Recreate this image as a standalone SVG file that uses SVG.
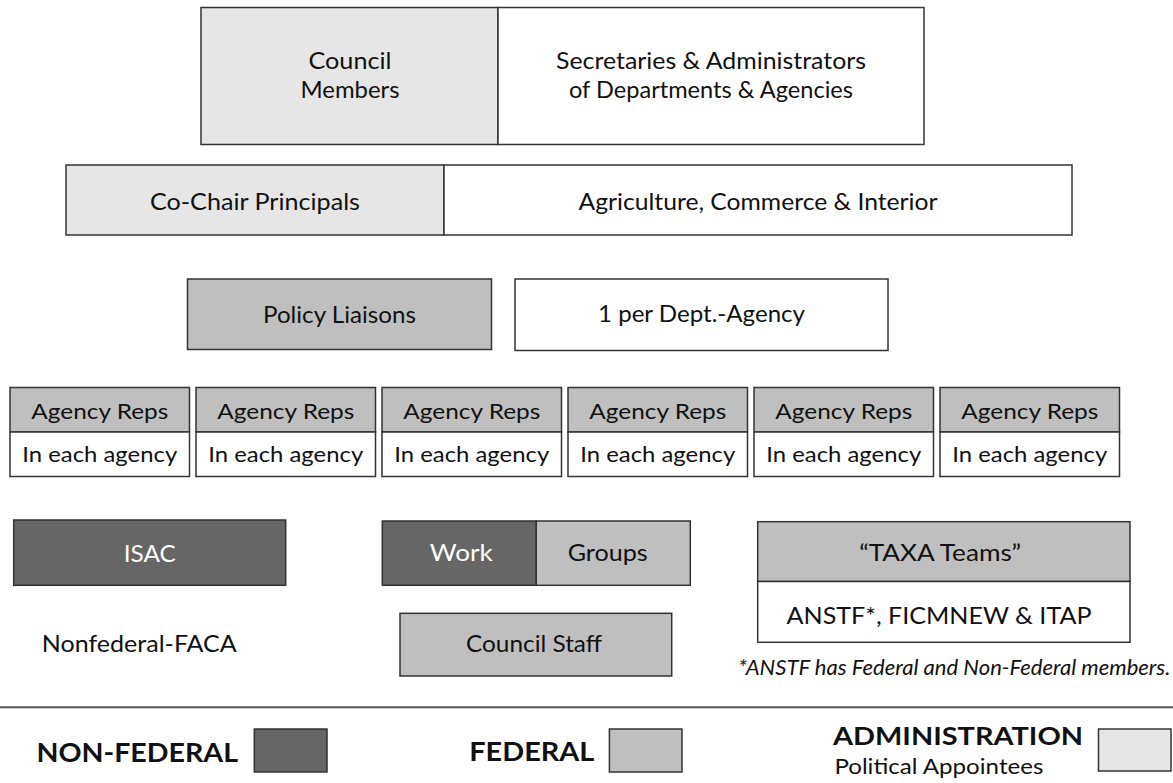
<svg xmlns="http://www.w3.org/2000/svg" width="1173" height="783" viewBox="0 0 1173 783">
<style>
rect{stroke:#333;stroke-width:1.5}
.adm{fill:#e6e6e6}
.fed{fill:#bfbfbf}
.non{fill:#666666}
.wht{fill:#ffffff}
text{font-family:Lato,"Open Sans","Liberation Sans",sans-serif;fill:#111;text-anchor:middle}
.t{font-size:24px}
.s{font-size:22px}
.w{fill:#ffffff}
.b{font-weight:bold;font-size:26px;text-anchor:start}
.l{text-anchor:start}
.i{font-style:italic;font-size:21px;text-anchor:start}
</style>
<rect width="1173" height="783" fill="#ffffff" style="stroke:none"/>
<g id="council">
<rect class="adm" x="201" y="7.5" width="297" height="137"/>
<rect class="wht" x="498" y="7.5" width="426" height="137"/>
<text class="t" x="350" y="69" textLength="83" lengthAdjust="spacingAndGlyphs">Council</text>
<text class="t" x="350" y="98" textLength="99" lengthAdjust="spacingAndGlyphs">Members</text>
<text class="t" x="711" y="69" textLength="310" lengthAdjust="spacingAndGlyphs">Secretaries &amp; Administrators</text>
<text class="t" x="711" y="98" textLength="284" lengthAdjust="spacingAndGlyphs">of Departments &amp; Agencies</text>
</g>
<g id="cochair">
<rect class="adm" x="66" y="165" width="378" height="70"/>
<rect class="wht" x="444" y="165" width="628" height="70"/>
<text class="t" x="255" y="210" textLength="210" lengthAdjust="spacingAndGlyphs">Co-Chair Principals</text>
<text class="t" x="758" y="210" textLength="359" lengthAdjust="spacingAndGlyphs">Agriculture, Commerce &amp; Interior</text>
</g>
<g id="policy">
<rect class="fed" x="187.5" y="279" width="304" height="70.5"/>
<text class="t" x="339.5" y="322.5" textLength="153" lengthAdjust="spacingAndGlyphs">Policy Liaisons</text>
</g>
<g id="perdept">
<rect class="wht" x="515" y="279" width="373" height="71.5"/>
<text class="t" x="701.5" y="322" textLength="207" lengthAdjust="spacingAndGlyphs">1 per Dept.-Agency</text>
</g>
<g id="agency1">
<rect class="fed" x="10" y="387.5" width="179.5" height="44.5"/><rect class="wht" x="10" y="432" width="179.5" height="44.5"/>
<text class="s" x="99.75" y="418.5" textLength="137" lengthAdjust="spacingAndGlyphs">Agency Reps</text>
<text class="s" x="99.75" y="461.5" textLength="155" lengthAdjust="spacingAndGlyphs">In each agency</text>
</g>
<g id="agency2">
<rect class="fed" x="196" y="387.5" width="179.5" height="44.5"/><rect class="wht" x="196" y="432" width="179.5" height="44.5"/>
<text class="s" x="285.75" y="418.5" textLength="137" lengthAdjust="spacingAndGlyphs">Agency Reps</text>
<text class="s" x="285.75" y="461.5" textLength="155" lengthAdjust="spacingAndGlyphs">In each agency</text>
</g>
<g id="agency3">
<rect class="fed" x="382" y="387.5" width="179.5" height="44.5"/><rect class="wht" x="382" y="432" width="179.5" height="44.5"/>
<text class="s" x="471.75" y="418.5" textLength="137" lengthAdjust="spacingAndGlyphs">Agency Reps</text>
<text class="s" x="471.75" y="461.5" textLength="155" lengthAdjust="spacingAndGlyphs">In each agency</text>
</g>
<g id="agency4">
<rect class="fed" x="568" y="387.5" width="179.5" height="44.5"/><rect class="wht" x="568" y="432" width="179.5" height="44.5"/>
<text class="s" x="657.75" y="418.5" textLength="137" lengthAdjust="spacingAndGlyphs">Agency Reps</text>
<text class="s" x="657.75" y="461.5" textLength="155" lengthAdjust="spacingAndGlyphs">In each agency</text>
</g>
<g id="agency5">
<rect class="fed" x="754" y="387.5" width="179.5" height="44.5"/><rect class="wht" x="754" y="432" width="179.5" height="44.5"/>
<text class="s" x="843.75" y="418.5" textLength="137" lengthAdjust="spacingAndGlyphs">Agency Reps</text>
<text class="s" x="843.75" y="461.5" textLength="155" lengthAdjust="spacingAndGlyphs">In each agency</text>
</g>
<g id="agency6">
<rect class="fed" x="940" y="387.5" width="179.5" height="44.5"/><rect class="wht" x="940" y="432" width="179.5" height="44.5"/>
<text class="s" x="1029.75" y="418.5" textLength="137" lengthAdjust="spacingAndGlyphs">Agency Reps</text>
<text class="s" x="1029.75" y="461.5" textLength="155" lengthAdjust="spacingAndGlyphs">In each agency</text>
</g>
<g id="isac">
<rect class="non" x="13.7" y="520" width="272" height="65.3"/>
<text class="t w" x="149.7" y="561.5" textLength="52" lengthAdjust="spacingAndGlyphs">ISAC</text>
<text class="t" x="139.3" y="651.5" textLength="195" lengthAdjust="spacingAndGlyphs">Nonfederal-FACA</text>
</g>
<g id="workgroups">
<rect class="non" x="382.3" y="521" width="154" height="64.3"/>
<rect class="fed" x="536.3" y="521" width="154" height="64.3"/>
<text class="t w" x="461.3" y="560.7" textLength="63" lengthAdjust="spacingAndGlyphs">Work</text>
<text class="t" x="607.7" y="560.7" textLength="80" lengthAdjust="spacingAndGlyphs">Groups</text>
</g>
<g id="councilstaff">
<rect class="fed" x="400" y="613.3" width="271.7" height="62.7"/>
<text class="t" x="534" y="651.7" textLength="136" lengthAdjust="spacingAndGlyphs">Council Staff</text>
</g>
<g id="taxa">
<rect class="fed" x="757.7" y="521.7" width="372.3" height="59.8"/>
<rect class="wht" x="757.7" y="581.5" width="372.3" height="60.8"/>
<text class="t" x="940.2" y="561" textLength="162" lengthAdjust="spacingAndGlyphs">“TAXA Teams”</text>
<text class="t" x="939" y="624.3" textLength="305" lengthAdjust="spacingAndGlyphs">ANSTF*, FICMNEW &amp; ITAP</text>
<text class="i" x="738.3" y="675" textLength="432" lengthAdjust="spacingAndGlyphs">*ANSTF has Federal and Non-Federal members.</text>
</g>
<g id="connectors"></g>
<g id="legend">
<line x1="0" y1="707.3" x2="1173" y2="707.3" stroke="#555" stroke-width="2"/>
<text class="b" x="36.4" y="761.5" textLength="201.6" lengthAdjust="spacingAndGlyphs">NON-FEDERAL</text>
<rect class="non" x="254.3" y="729" width="72.7" height="43"/>
<text class="b" x="469.3" y="761" textLength="125" lengthAdjust="spacingAndGlyphs">FEDERAL</text>
<rect class="fed" x="609.4" y="729" width="72.6" height="43"/>
<text class="b" x="833" y="745" style="font-size:24px" textLength="250" lengthAdjust="spacingAndGlyphs">ADMINISTRATION</text>
<text class="s l" x="834.4" y="774" textLength="209" lengthAdjust="spacingAndGlyphs">Political Appointees</text>
<rect class="adm" x="1098.5" y="729" width="72.5" height="42"/>
</g>
</svg>
